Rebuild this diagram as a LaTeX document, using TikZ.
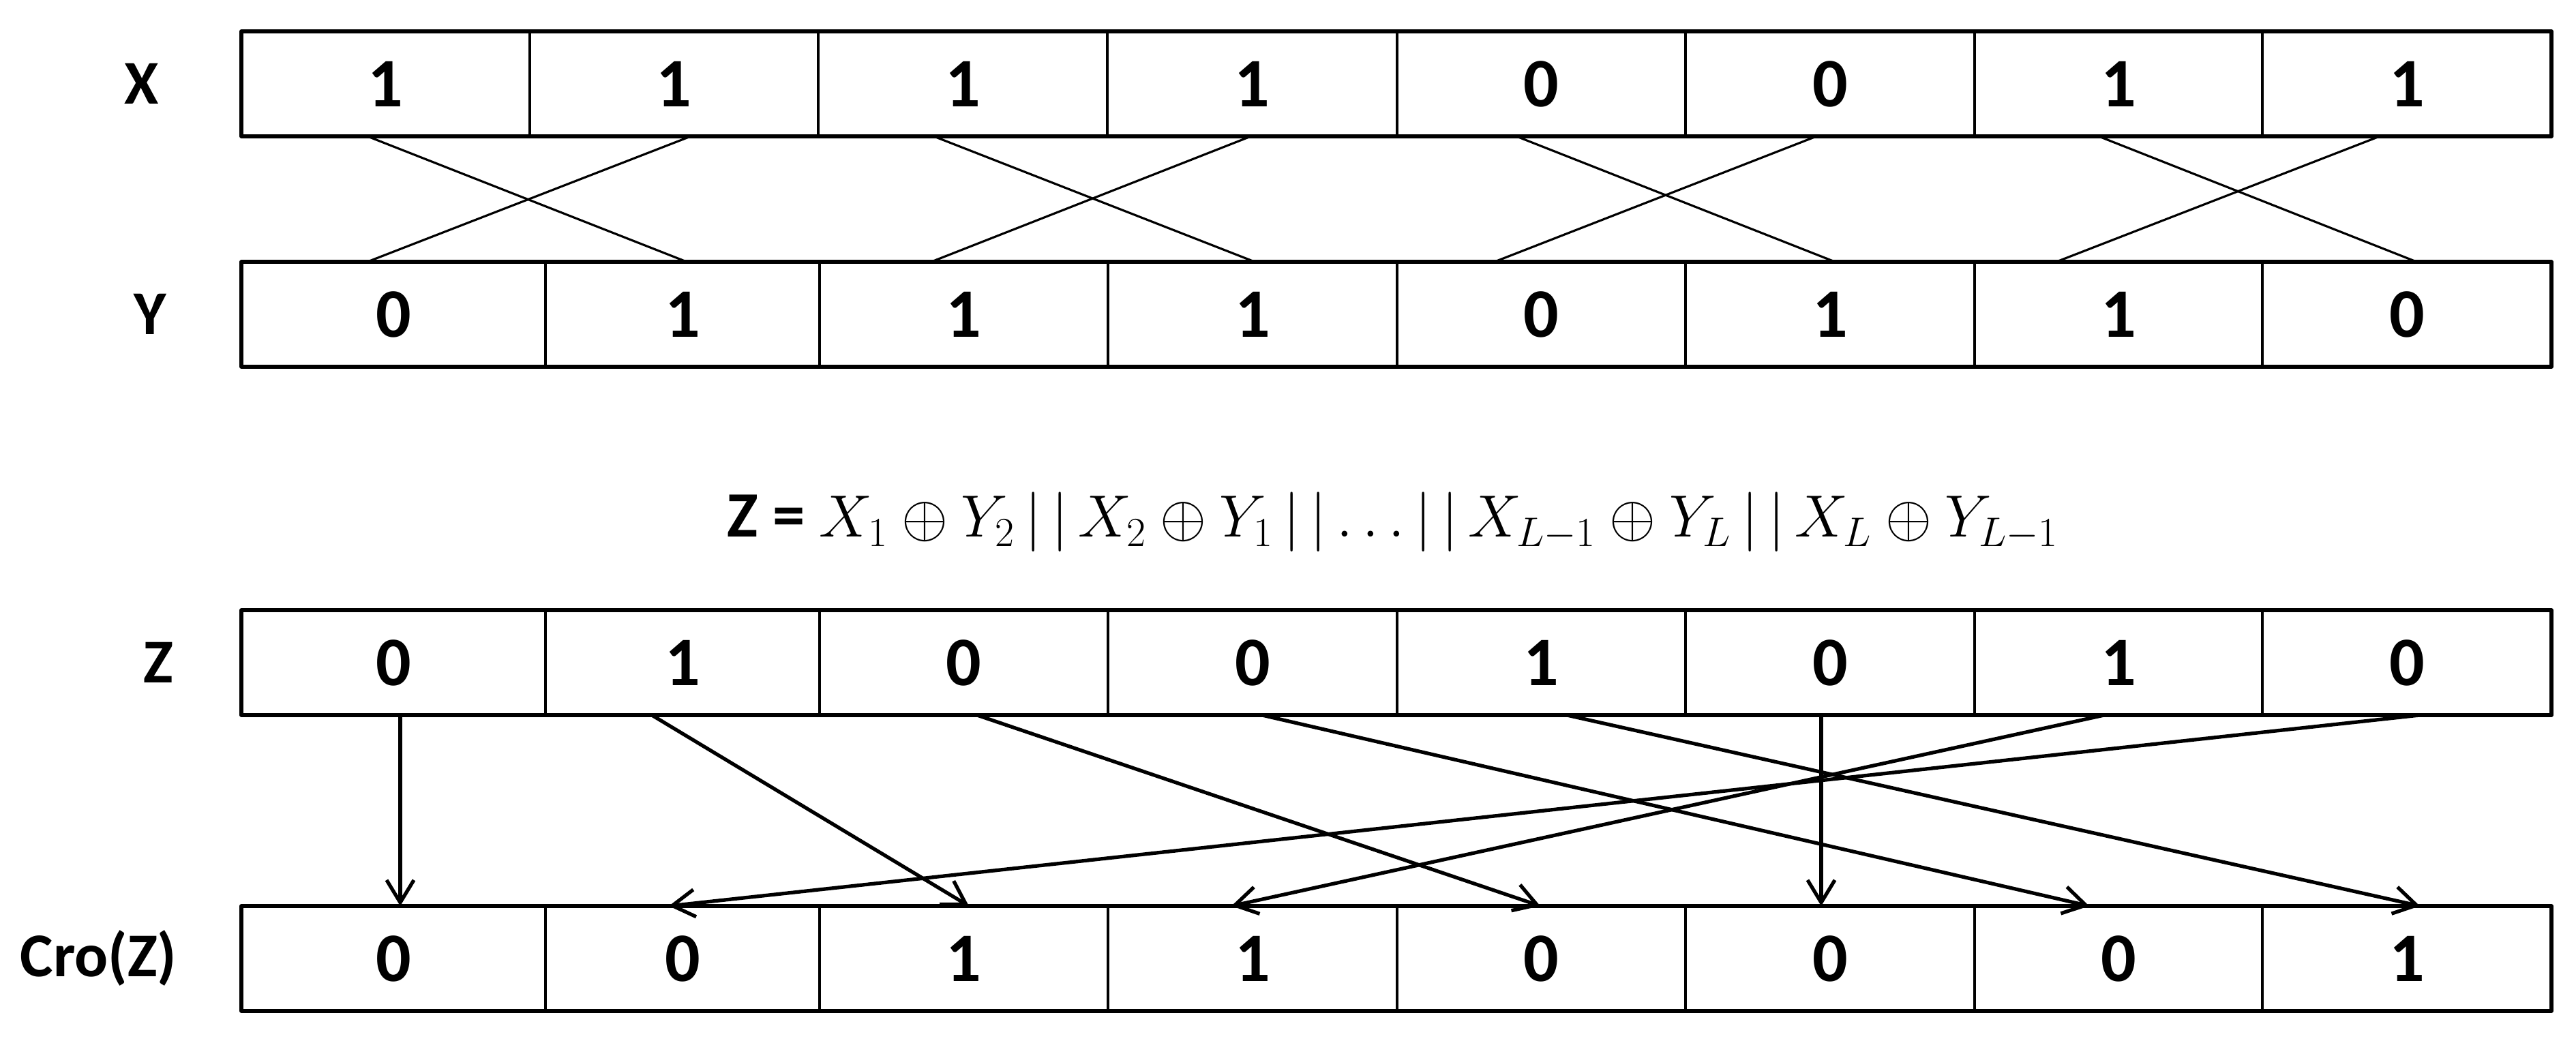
\documentclass[tikz,border=0pt]{standalone}
\usepackage{fontspec}
\setmainfont{Carlito}
\usetikzlibrary{arrows.meta}
\tikzset{
  cell/.style={draw, line width=1pt, minimum height=1.54cm, inner sep=0pt, outer sep=0pt,
    font=\fontsize{29}{34}\selectfont\bfseries},
  rowframe/.style={line width=1.5pt},
  rowlabel/.style={anchor=east, inner sep=0pt, font=\fontsize{26}{31}\selectfont\bfseries},
  crossline/.style={line width=0.9pt},
  mapline/.style={line width=1.5pt, -{Straight Barb[length=3.3mm,width=4mm]}},
}
\begin{document}
\begin{tikzpicture}[line join=round, line cap=round]
    \useasboundingbox (0,0) rectangle (37.78,15.27);
    % rows of bits
    \foreach \i/\xa/\xb/\v in {1/3.54/7.77/1, 2/7.77/12.00/1, 3/12.00/16.24/1, 4/16.24/20.49/1, 5/20.49/24.72/0, 6/24.72/28.96/0, 7/28.96/33.18/1, 8/33.18/37.42/1}
    \node[cell, minimum width={(\xb-\xa)*1cm}] (x\i) at ({(\xa+\xb)/2},14.04) {\v};
    \foreach \i/\xa/\xb/\v in {1/3.54/8.00/0, 2/8.00/12.02/1, 3/12.02/16.25/1, 4/16.25/20.49/1, 5/20.49/24.72/0, 6/24.72/28.96/1, 7/28.96/33.18/1, 8/33.18/37.42/0}
    \node[cell, minimum width={(\xb-\xa)*1cm}] (y\i) at ({(\xa+\xb)/2},10.66) {\v};
    \foreach \i/\xa/\xb/\v in {1/3.54/8.00/0, 2/8.00/12.02/1, 3/12.02/16.25/0, 4/16.25/20.49/0, 5/20.49/24.72/1, 6/24.72/28.96/0, 7/28.96/33.18/1, 8/33.18/37.42/0}
    \node[cell, minimum width={(\xb-\xa)*1cm}] (z\i) at ({(\xa+\xb)/2},5.55) {\v};
    \foreach \i/\xa/\xb/\v in {1/3.54/8.00/0, 2/8.00/12.02/0, 3/12.02/16.25/1, 4/16.25/20.49/1, 5/20.49/24.72/0, 6/24.72/28.96/0, 7/28.96/33.18/0, 8/33.18/37.42/1}
    \node[cell, minimum width={(\xb-\xa)*1cm}] (c\i) at ({(\xa+\xb)/2},1.21) {\v};
    \foreach \r in {x,y,z,c}
    \draw[rowframe] (\r1.north west) rectangle (\r8.south east);
    % labels
    \node[rowlabel] (lx) at (2.34,14.04) {X};
    \node[rowlabel] (ly) at (2.45,10.66) {Y};
    \node[rowlabel] (lz) at (2.55,5.55) {Z};
    \node[rowlabel] (lc) at (2.60,1.21) {Cro(Z)};
    % swap X and Y
    \foreach \a/\da/\b/\db in {1/-0.265/2/0.06, 2/0.245/1/-0.38, 3/-0.425/4/0.03, 4/-0.02/3/-0.475, 5/-0.365/6/0.07, 6/-0.20/5/-0.685, 7/-0.29/8/0.14, 8/-0.40/7/-0.91}
    \draw[crossline] ([xshift=\da cm]x\a.south) -- ([xshift=\db cm]y\b.north);
    \node[anchor=base, inner sep=0pt, font=\fontsize{27}{32}\selectfont] (eq) at (20.43,7.39)
        {\textbf{Z =} $X_1\oplus Y_2\,|\,|\,X_2\oplus Y_1\,|\,|\ldots|\,|\,X_{L-1}\oplus Y_L\,|\,|\,X_L\oplus Y_{L-1}$};
    % crossover of Z
    \foreach \a/\da/\b/\db in {1/0.10/1/0.10, 2/-0.45/3/0.075, 3/0.195/5/-0.015, 4/0.14/7/-0.43, 5/0.375/8/0.19, 6/-0.13/6/-0.13, 7/-0.21/4/-0.31, 8/0.19/2/-0.20}
    \draw[mapline] ([xshift=\da cm]z\a.south) -- ([xshift=\db cm]c\b.north);
\end{tikzpicture}
\end{document}
